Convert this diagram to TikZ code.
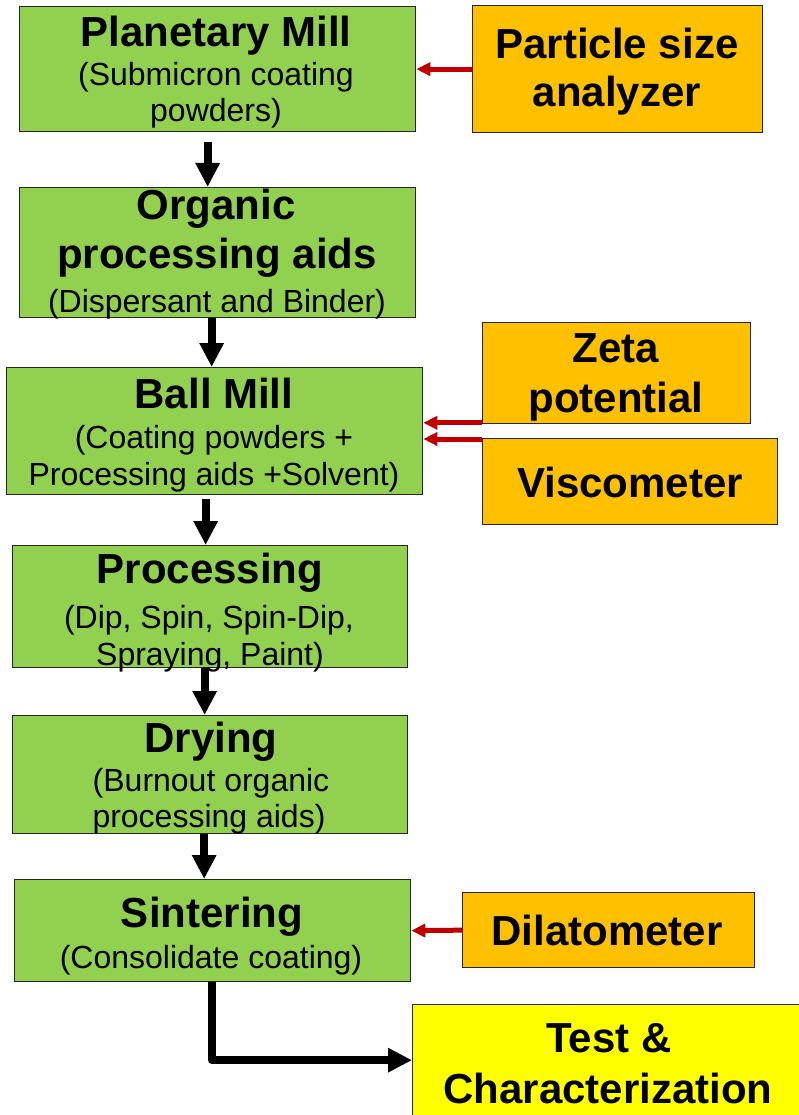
\documentclass[tikz,border=0pt]{standalone}
\usepackage{fontspec}
\setmainfont{Liberation Sans}
\usetikzlibrary{arrows.meta}
\definecolor{gbox}{HTML}{92D050}
\definecolor{obox}{HTML}{FFC000}
\definecolor{ybox}{HTML}{FFFF00}
\definecolor{rarr}{HTML}{C00000}
\tikzset{
  box/.style={draw=black!85, line width=1.3pt, inner sep=0pt, anchor=north west},
  ttl/.style={anchor=base, inner sep=0pt, font=\fontsize{42}{48}\selectfont\bfseries},
  sub/.style={anchor=base, inner sep=0pt, font=\fontsize{32}{37}\selectfont},
  blk/.style={line width=8pt, -{Triangle[length=24pt,width=23pt]}},
  red/.style={draw=rarr, line width=5pt, -{Triangle[length=14pt,width=13pt]}},
}
\begin{document}
\begin{tikzpicture}[x=1pt,y=1pt]
\useasboundingbox (0,0) rectangle (798,-1115);
% boxes
\node[box, fill=gbox, minimum width=396pt, minimum height=125pt] (pm) at (19,-6) {};
\node[box, fill=obox, minimum width=290pt, minimum height=127pt] (pa) at (472,-5) {};
\node[box, fill=gbox, minimum width=396pt, minimum height=130pt] (om) at (19,-187) {};
\node[box, fill=obox, minimum width=268pt, minimum height=101pt] (ze) at (482,-322) {};
\node[box, fill=gbox, minimum width=416pt, minimum height=127pt] (bm) at (6,-367) {};
\node[box, fill=obox, minimum width=295pt, minimum height=86pt] (vi) at (482,-438) {};
\node[box, fill=gbox, minimum width=395pt, minimum height=122pt] (pr) at (12,-545) {};
\node[box, fill=gbox, minimum width=395pt, minimum height=118pt] (dr) at (12,-715) {};
\node[box, fill=gbox, minimum width=396pt, minimum height=102pt] (si) at (14,-879) {};
\node[box, fill=obox, minimum width=292pt, minimum height=75pt] (di) at (462,-892) {};
\node[box, fill=ybox, minimum width=393pt, minimum height=116pt] (te) at (412,-1004) {};
% texts
\node[ttl] (pm1) at (216,-47) {Planetary Mill};
\node[sub] (pm2) at (216,-86) {(Submicron coating};
\node[sub] (pm3) at (216,-122) {powders)};
\node[ttl] (pa1) at (617,-59) {Particle size};
\node[ttl] (pa2) at (617,-107) {analyzer};
\node[ttl] (om1) at (216,-220) {Organic};
\node[ttl] (om2) at (217,-268) {processing aids};
\node[sub] (om3) at (217,-312) {(Dispersant and Binder)};
\node[ttl] (ze1) at (616,-362) {Zeta};
\node[ttl] (ze2) at (616,-412) {potential};
\node[ttl] (bm1) at (214,-408) {Ball Mill};
\node[sub] (bm2) at (214,-448) {(Coating powders +};
\node[sub] (bm3) at (214,-485) {Processing aids +Solvent)};
\node[ttl] (vi1) at (630,-497) {Viscometer};
\node[ttl] (pr1) at (210,-583) {Processing};
\node[sub] (pr2) at (209,-628) {(Dip, Spin, Spin-Dip,};
\node[sub] (pr3) at (210,-665) {Spraying, Paint)};
\node[ttl] (dr1) at (211,-752) {Drying};
\node[sub] (dr2) at (211,-791) {(Burnout organic};
\node[sub] (dr3) at (209,-827) {processing aids)};
\node[ttl] (si1) at (212,-927) {Sintering};
\node[sub] (si2) at (211,-968) {(Consolidate coating)};
\node[ttl] (di1) at (607,-945) {Dilatometer};
\node[ttl] (te1) at (609,-1052) {Test \&};
\node[ttl] (te2) at (608,-1103) {Characterization};
% black flow arrows
\draw[blk] ([xshift=-10pt,yshift=-10pt]pm.south) -- ([xshift=-10pt]pm.south |- om.north);
\draw[blk] ([xshift=-6pt]om.south) -- ([xshift=-6pt]om.south |- bm.north);
\draw[blk] ([xshift=-9pt,yshift=-4pt]bm.south) -- ([xshift=-9pt]bm.south |- pr.north);
\draw[blk] ([xshift=-5.5pt]pr.south) -- ([xshift=-5.5pt]pr.south |- dr.north);
\draw[blk] ([xshift=-6pt]dr.south) -- ([xshift=-6pt]dr.south |- si.north);
\draw[blk, line join=round] ([xshift=-1pt]si.south) |- ([yshift=2.5pt]te.west);
% red measurement arrows
\draw[red] (pa.west) -- (pm.east);
\draw[red] ([yshift=1.5pt]ze.south west) -- ([yshift=1.5pt]ze.south west -| bm.east);
\draw[red] ([yshift=-1pt]vi.north west) -- ([yshift=-1pt]vi.north west -| bm.east);
\draw[red] (di.west) -- (si.east);
\end{tikzpicture}
\end{document}
